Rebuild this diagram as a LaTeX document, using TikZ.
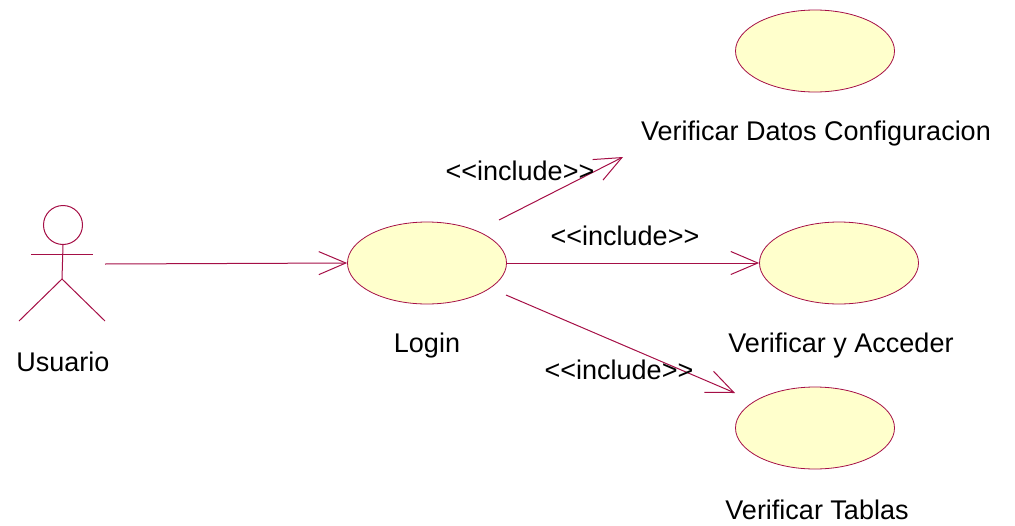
\documentclass[tikz,border=0pt]{standalone}
\usepackage{fontspec}
\setmainfont{Liberation Sans}
\usetikzlibrary{arrows.meta,shapes.geometric}
\definecolor{rosered}{RGB}{165,15,70}
\definecolor{roseyellow}{RGB}{255,255,204}
\begin{document}
\begin{tikzpicture}[x=1pt,y=-1pt]
	\tikzstyle{usecase} = [ellipse, draw=rosered, fill=roseyellow, line width=0.8pt, minimum width=159pt, minimum height=82pt, inner sep=0pt]
	\tikzstyle{actor_line} = [draw=rosered, line width=1pt]
	\tikzstyle{label_text} = [font=\fontsize{27}{32}\selectfont, text=black, inner sep=0pt]
	\tikzstyle{uses} = [rosered, line width=1pt, -{Straight Barb[length=27pt,width=23pt,line width=1pt]}]

	\useasboundingbox (0,0) rectangle (1015,525);

%------------------------------------------------------------
	\node[circle, draw=rosered, line width=1pt, minimum size=39pt, inner sep=0pt] (head) at (63,225) {};
	\coordinate (hip) at (62,279);
	\coordinate (armleft) at (31,254);
	\coordinate (armright) at (93,254);
	\coordinate (footleft) at (19,321);
	\coordinate (footright) at (105,321);
	\node[label_text] (usuario) at (63,362) {Usuario};

	\draw[actor_line] (head.south) -- (hip);
	\draw[actor_line] (armleft) -- (armright);
	\draw[actor_line] (footleft) -- (hip) -- (footright);

%------------------------------------------------------------
	\node[usecase] (login) at (427,263) {};
	\node[usecase] (datos) at (815,51) {};
	\node[usecase] (acceder) at (839,263) {};
	\node[usecase] (tablas) at (815,428) {};

%------------------------------------------------------------
	\node[label_text] (loginlabel) at (427,346) {Login};
	\node[label_text] (datoslabel) at (816,134) {Verificar Datos Configuracion};
	\node[label_text] (accederlabel) at (841,346) {Verificar y Acceder};
	\node[label_text] (tablaslabel) at (817,510) {Verificar Tablas};

%------------------------------------------------------------
	\coordinate (actorend) at (105,264);
	\coordinate (datosstart) at (499,220);
	\coordinate (datosend) at (623,157);
	\coordinate (tablasstart) at (506,295);
	\coordinate (tablasend) at (735,393);

	\draw[uses] (actorend) -- (login.west);
	\draw[uses] (datosstart) -- (datosend);
	\draw[uses] (login.east) -- (acceder.west);
	\draw[uses] (tablasstart) -- (tablasend);

%------------------------------------------------------------
	\node[label_text] (include1) at (520,171) {<{}<include>{}>};
	\node[label_text] (include2) at (625,236) {<{}<include>{}>};
	\node[label_text] (include3) at (619,370) {<{}<include>{}>};
\end{tikzpicture}
\end{document}
